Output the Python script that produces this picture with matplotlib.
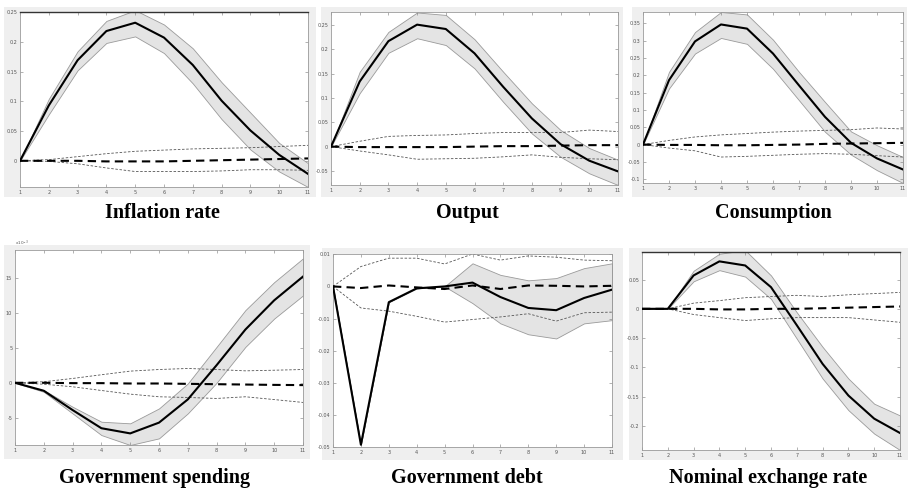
import matplotlib
matplotlib.use("Agg")
import matplotlib.pyplot as plt
from matplotlib.patches import Rectangle
from matplotlib.ticker import FuncFormatter
import numpy as np

W, H = 908, 491
horizon = list(range(1, 12))

# ---- Impulse responses: median, 68% band, alternative-model median and band ----
titles = ["Inflation rate", "Output", "Consumption",
          "Government spending", "Government debt", "Nominal exchange rate"]

infl_med = [0, 0.093, 0.169, 0.218, 0.232, 0.207, 0.161, 0.101, 0.051, 0.010, -0.022]
infl_hi = [0, 0.104, 0.184, 0.235, 0.253, 0.229, 0.189, 0.132, 0.081, 0.030, -0.004]
infl_lo = [0, 0.078, 0.152, 0.198, 0.209, 0.181, 0.130, 0.070, 0.019, -0.018, -0.044]
infl_alt = [0, 0, 0, -0.001, -0.001, -0.001, 0, 0.001, 0.002, 0.003, 0.004]
infl_alt_hi = [0, 0.002, 0.007, 0.012, 0.016, 0.018, 0.020, 0.021, 0.022, 0.024, 0.026]
infl_alt_lo = [0, -0.001, -0.005, -0.012, -0.018, -0.018, -0.018, -0.017, -0.015, -0.015, -0.016]

out_med = [0, 0.134, 0.217, 0.251, 0.242, 0.192, 0.123, 0.058, 0.005, -0.029, -0.051]
out_hi = [0, 0.154, 0.236, 0.276, 0.271, 0.221, 0.154, 0.089, 0.034, -0.003, -0.027]
out_lo = [0, 0.110, 0.193, 0.223, 0.209, 0.161, 0.092, 0.027, -0.021, -0.055, -0.079]
out_alt = [0, -0.001, -0.001, -0.001, -0.001, 0, 0.001, 0.001, 0.002, 0.003, 0.003]
out_alt_hi = [0, 0.011, 0.021, 0.023, 0.024, 0.027, 0.029, 0.029, 0.029, 0.034, 0.031]
out_alt_lo = [0, -0.009, -0.017, -0.026, -0.025, -0.024, -0.021, -0.017, -0.022, -0.025, -0.027]

cons_med = [0, 0.186, 0.298, 0.347, 0.335, 0.263, 0.171, 0.080, 0.005, -0.040, -0.072]
cons_hi = [0, 0.210, 0.325, 0.383, 0.376, 0.303, 0.210, 0.123, 0.038, -0.002, -0.036]
cons_lo = [0, 0.162, 0.263, 0.308, 0.291, 0.219, 0.128, 0.037, -0.029, -0.074, -0.111]
cons_alt = [0, -0.001, -0.001, -0.002, -0.002, -0.001, 0, 0.002, 0.003, 0.004, 0.005]
cons_alt_hi = [0, 0.012, 0.022, 0.028, 0.032, 0.036, 0.039, 0.041, 0.043, 0.048, 0.045]
cons_alt_lo = [0, -0.010, -0.018, -0.036, -0.034, -0.031, -0.028, -0.026, -0.028, -0.032, -0.036]

# government spending, in units of 1e-3
gs_med = [0, -1.14, -3.9, -6.5, -7.24, -5.7, -2.38, 2.52, 7.62, 11.8, 15.2]
gs_hi = [0, -1.05, -3.43, -5.57, -5.8, -3.67, -0.1, 5.14, 10.4, 14.4, 17.8]
gs_lo = [0, -1.29, -4.38, -7.48, -8.9, -7.95, -4.38, 0.0, 5.14, 9.19, 12.5]
gs_alt = [0, 0, -0.05, -0.05, -0.1, -0.1, -0.15, -0.2, -0.25, -0.3, -0.33]
gs_alt_hi = [0, 0.15, 0.62, 1.15, 1.67, 1.9, 2.05, 1.9, 1.71, 1.8, 1.9]
gs_alt_lo = [0, -0.2, -0.57, -1.1, -1.62, -2.0, -2.1, -2.24, -2.0, -2.4, -2.81]

debt_med = [0, -0.0493, -0.0049, -0.0006, 0.0, 0.0012, -0.0033, -0.0067, -0.0074, -0.0036, -0.0010]
debt_hi = [0, -0.0493, -0.0049, -0.0006, 0.0, 0.0072, 0.0036, 0.0019, 0.0026, 0.0057, 0.0072]
debt_lo = [0, -0.0493, -0.0049, -0.0006, 0.0, -0.0052, -0.0115, -0.0149, -0.0162, -0.0115, -0.0105]
debt_alt = [0, -0.0005, 0.0003, -0.0003, -0.0008, 0.0003, -0.0008, 0.0003, 0.0002, 0.0, 0.0002]
debt_alt_hi = [0, 0.0062, 0.0088, 0.0088, 0.0070, 0.0101, 0.0082, 0.0095, 0.0091, 0.0082, 0.0080]
debt_alt_lo = [0, -0.0067, -0.0077, -0.0093, -0.0111, -0.0103, -0.0095, -0.0085, -0.0108, -0.0082, -0.0080]

ner_med = [0, 0, 0.057, 0.081, 0.074, 0.037, -0.028, -0.094, -0.148, -0.1875, -0.212]
ner_hi = [0, 0, 0.065, 0.094, 0.100, 0.057, -0.006, -0.065, -0.119, -0.162, -0.182]
ner_lo = [0, 0, 0.047, 0.066, 0.055, 0.017, -0.051, -0.119, -0.173, -0.213, -0.241]
ner_alt = [0, 0, 0, -0.001, -0.001, 0, 0, 0.001, 0.002, 0.003, 0.004]
ner_alt_hi = [0, 0, 0.0097, 0.014, 0.019, 0.021, 0.023, 0.021, 0.024, 0.026, 0.028]
ner_alt_lo = [0, 0, -0.0097, -0.015, -0.020, -0.017, -0.015, -0.015, -0.015, -0.019, -0.023]

y_ticks = [
    [0, 0.05, 0.1, 0.15, 0.2, 0.25],
    [-0.05, 0, 0.05, 0.1, 0.15, 0.2, 0.25],
    [-0.1, -0.05, 0, 0.05, 0.1, 0.15, 0.2, 0.25, 0.3, 0.35],
    [-5, 0, 5, 10, 15],
    [-0.05, -0.04, -0.03, -0.02, -0.01, 0, 0.01],
    [-0.2, -0.15, -0.1, -0.05, 0, 0.05],
]
y_limits = [(-0.044, 0.25), (-0.079, 0.277), (-0.111, 0.383),
            (-8.9, 19.0), (-0.05, 0.0101), (-0.241, 0.097)]

series = [
    (infl_med, infl_hi, infl_lo, infl_alt, infl_alt_hi, infl_alt_lo),
    (out_med, out_hi, out_lo, out_alt, out_alt_hi, out_alt_lo),
    (cons_med, cons_hi, cons_lo, cons_alt, cons_alt_hi, cons_alt_lo),
    (gs_med, gs_hi, gs_lo, gs_alt, gs_alt_hi, gs_alt_lo),
    (debt_med, debt_hi, debt_lo, debt_alt, debt_alt_hi, debt_alt_lo),
    (ner_med, ner_hi, ner_lo, ner_alt, ner_alt_hi, ner_alt_lo),
]

# pixel boxes (left, top, right, bottom) for axes and their grey window frames
axes_px = [(20, 12, 308, 187), (331, 12, 618, 185), (643, 12, 903, 183),
           (15, 250, 303, 445), (333, 254, 612, 447), (642, 252, 900, 450)]
frame_px = [(4, 7, 316, 197), (321, 7, 623, 197), (632, 7, 907, 197),
            (4, 245, 310, 459), (322, 248, 623, 460), (629, 248, 908, 460)]
title_px = [(162, 213), (467, 213), (773, 213), (155, 478), (467, 478), (768, 478)]
dark_top = [True, False, False, False, False, True]

fig = plt.figure(figsize=(W / 100, H / 100), dpi=100)
fig.patch.set_facecolor("white")

for (l, t, r, b) in frame_px:
    fig.patches.append(Rectangle((l / W, 1 - b / H), (r - l) / W, (b - t) / H,
                                 transform=fig.transFigure, facecolor="#efefef",
                                 edgecolor="none", zorder=-10))

fmt = FuncFormatter(lambda v, p: ("%g" % v) if abs(v) > 1e-12 else "0")

for i, (l, t, r, b) in enumerate(axes_px):
    ax = fig.add_axes([l / W, 1 - b / H, (r - l) / W, (b - t) / H])
    ax.set_zorder(5)
    med, hi, lo, alt, alt_hi, alt_lo = series[i]
    ax.fill_between(horizon, lo, hi, facecolor="#e4e4e4", edgecolor="#9a9a9a",
                    linewidth=0.6, zorder=1)
    ax.plot(horizon, alt_hi, color="#555555", linestyle=(0, (3, 2)), linewidth=0.6, zorder=2)
    ax.plot(horizon, alt_lo, color="#555555", linestyle=(0, (3, 2)), linewidth=0.6, zorder=2)
    ax.plot(horizon, alt, color="black", linestyle=(0, (4, 2.5)), linewidth=1.5, zorder=3)
    ax.plot(horizon, med, color="black", linewidth=1.5, zorder=4)

    ax.set_xlim(1, 11)
    ax.set_ylim(*y_limits[i])
    ax.set_xticks(horizon)
    ax.set_yticks(y_ticks[i])
    ax.yaxis.set_major_formatter(fmt)
    ax.tick_params(direction="in", length=2, width=0.4, labelsize=3.5,
                   labelcolor="#555555", color="#777777", pad=2,
                   top=True, right=True)
    for name, sp in ax.spines.items():
        sp.set_color("#9a9a9a")
        sp.set_linewidth(0.6)
    if dark_top[i]:
        ax.spines["top"].set_color("#333333")
        ax.spines["top"].set_linewidth(1.0)
    if i == 3:
        ax.text(0.0, 1.01, r"x10$^{-3}$", transform=ax.transAxes, fontsize=3,
                color="#555555", ha="left", va="bottom")

    tx, ty = title_px[i]
    fig.text(tx / W, 1 - ty / H, titles[i], ha="center", va="center",
             fontfamily="Liberation Serif", fontweight="bold", fontsize=14.5)

fig.savefig("out.png", dpi=100)
